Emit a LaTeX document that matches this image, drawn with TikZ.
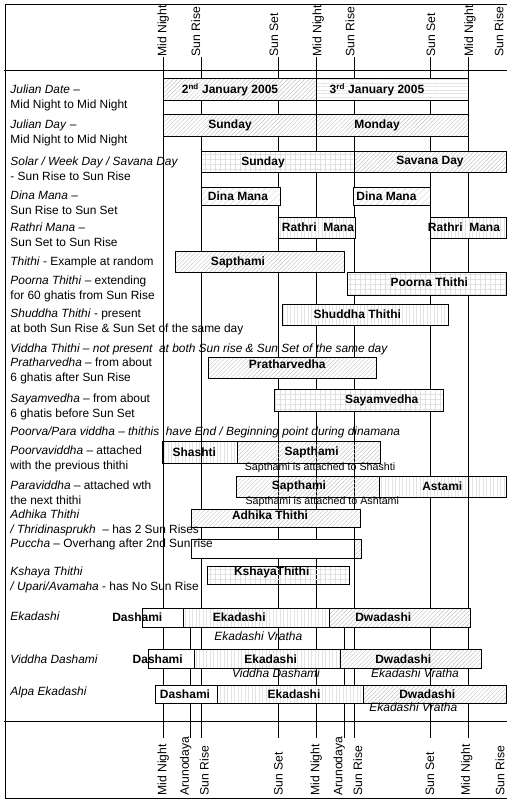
\documentclass[tikz,border=0pt]{standalone}
\usepackage{fontspec}
\setmainfont{Liberation Sans}
\usetikzlibrary{patterns.meta}

\begin{document}
\begin{tikzpicture}[x=1pt,y=-1pt,line width=0.9pt,
    seg/.style={draw, line width=1pt},
    whitebg/.style={preaction={fill=white}},
    diag/.style={seg, pattern={Lines[angle=45,distance=3pt,line width=0.45pt]}, pattern color=black!24},
    faint/.style={seg, pattern={Lines[angle=45,distance=4.5pt,line width=0.4pt]}, pattern color=black!18},
    checks/.style={seg, pattern={Hatch[angle=0,distance=5pt,line width=0.45pt]}, pattern color=black!12},
    vstripes/.style={seg, pattern={Lines[angle=90,distance=3.5pt,line width=0.45pt]}, pattern color=black!11},
    hstripes/.style={seg, pattern={Lines[angle=0,distance=3.5pt,line width=0.5pt]}, pattern color=black!11},
    blank/.style={seg, fill=white},
    timelabel/.style={rotate=90, anchor=west, inner sep=0pt, font=\fontsize{12.2}{14}\selectfont},
    lbl/.style={inner sep=0pt, font=\bfseries\fontsize{12}{14}\selectfont},
    note/.style={inner sep=0pt, font=\fontsize{10.7}{12}\selectfont},
    vratha/.style={inner sep=0pt, font=\itshape\fontsize{12}{14}\selectfont},
    desc/.style={anchor=west, align=left, inner sep=0pt, font=\fontsize{11.9}{15}\selectfont}]
    \useasboundingbox (0,0) rectangle (512,804);

    \coordinate (nw) at (5.3,4.3);
    \coordinate (ne) at (507,4.3);
    \coordinate (sw) at (5.3,798);
    \coordinate (se) at (507,798);
    \coordinate (headl) at (4,70.7);
    \coordinate (headr) at (507,70.7);
    \coordinate (footl) at (4,721.7);
    \coordinate (footr) at (507,721.7);
    \draw (ne) -- (nw) -- (sw) -- (se);
    \draw (headl) -- (headr);
    \draw (footl) -- (footr);

    \coordinate (mn1) at (163.3,57);
    \coordinate (sr1) at (201.3,57);
    \coordinate (ss1) at (278.3,57);
    \coordinate (mn2) at (316.3,57);
    \coordinate (sr2) at (354.3,57);
    \coordinate (ss2) at (430.3,57);
    \coordinate (mn3) at (468.3,57);
    \coordinate (ar1) at (190.3,608.3);
    \coordinate (ar2) at (344.3,608.3);
    \coordinate (base) at (0,737.7);
    \draw (mn1) -- (mn1 |- base);
    \draw (sr1) -- (sr1 |- base);
    \draw (ss1) -- (ss1 |- base);
    \draw (mn2) -- (mn2 |- base);
    \draw (sr2) -- (sr2 |- base);
    \draw (ss2) -- (ss2 |- base);
    \draw (mn3) -- (mn3 |- base);
    \draw (ar1) -- (ar1 |- base);
    \draw (ar2) -- (ar2 |- base);

    \node[timelabel] (t-mn1) at (163.3,57) {Mid Night};
    \node[timelabel] (t-sr1) at (195.7,57) {Sun Rise};
    \node[timelabel] (t-ss1) at (274,57) {Sun Set};
    \node[timelabel] (t-mn2) at (318.3,57) {Mid Night};
    \node[timelabel] (t-sr2) at (350,57) {Sun Rise};
    \node[timelabel] (t-ss2) at (431,57) {Sun Set};
    \node[timelabel] (t-mn3) at (470,57) {Mid Night};
    \node[timelabel] (t-sr3) at (499,57) {Sun Rise};

    \node[timelabel] (b-mn1) at (163.3,796) {Mid Night};
    \node[timelabel] (b-ar1) at (185.7,796) {Arunodaya};
    \node[timelabel] (b-sr1) at (204.3,796) {Sun Rise};
    \node[timelabel] (b-ss1) at (278.3,796) {Sun Set};
    \node[timelabel] (b-mn2) at (316.3,796) {Mid Night};
    \node[timelabel] (b-ar2) at (339.3,796) {Arunodaya};
    \node[timelabel] (b-sr2) at (357.7,796) {Sun Rise};
    \node[timelabel] (b-ss2) at (430,796) {Sun Set};
    \node[timelabel] (b-mn3) at (466.7,796) {Mid Night};
    \node[timelabel] (b-sr3) at (500,796) {Sun Rise};

    \draw[diag, whitebg] (163.3,78.7) rectangle (316.3,100);
    \draw[hstripes, whitebg] (316.3,78.7) rectangle (468.3,100);
    \node[lbl] (jdate1) at (230,90) {2\textsuperscript{nd} January 2005};
    \node[lbl] (jdate2) at (377,90) {3\textsuperscript{rd} January 2005};

    \draw[diag, whitebg] (163.3,114.3) rectangle (316.3,136);
    \draw[diag, whitebg] (316.3,114.3) rectangle (468.3,136);
    \node[lbl] (jday1) at (230,125.2) {Sunday};
    \node[lbl] (jday2) at (377,125.2) {Monday};

    \draw[checks, whitebg] (201.3,151.7) rectangle (354.3,172.3);
    \draw[diag, whitebg] (354.3,151.7) rectangle (506,172.3);
    \node[lbl] (solar1) at (263,161.9) {Sunday};
    \node[lbl] (solar2) at (430,161.9) {Savana Day};

    \draw[faint, whitebg] (201.3,187.3) rectangle (280.7,205.7);
    \draw[faint, whitebg] (353.3,187.3) rectangle (430,205.7);
    \node[lbl, anchor=west] (dina1) at (207.5,196.3) {Dina Mana};
    \node[lbl, anchor=west] (dina2) at (356,196.3) {Dina Mana};

    \draw[vstripes, whitebg] (278.3,217.3) rectangle (355.7,238.3);
    \draw[vstripes, whitebg] (430.3,217.3) rectangle (506,238.3);
    \node[lbl] (rathri1) at (318,227.6) {Rathri\ \ Mana};
    \node[lbl] (rathri2) at (464,227.6) {Rathri\ \ Mana};

    \draw[diag, whitebg] (175.7,251.7) rectangle (344.3,272.3);
    \node[lbl] (thithi) at (238,262) {Sapthami};

    \draw[checks, whitebg] (347.7,272.7) rectangle (506,295);
    \node[lbl] (poorna) at (429.3,282) {Poorna Thithi};

    \draw[vstripes, whitebg] (282.3,304.3) rectangle (448.3,325.3);
    \node[lbl] (shuddha) at (357.3,314.5) {Shuddha Thithi};

    \draw[diag, whitebg] (208.3,357.3) rectangle (376.7,378.3);
    \node[lbl] (prathar) at (287.3,364.3) {Pratharvedha};

    \draw[checks, whitebg] (274.3,389) rectangle (443.3,411.7);
    \node[lbl] (sayam) at (381.7,400) {Sayamvedha};

    \draw[vstripes] (162.3,441.7) rectangle (237.3,463.3);
    \draw[diag] (237.3,441.7) rectangle (380,463.3);
    \node[lbl] (poorva1) at (194.3,452.3) {Shashti};
    \node[lbl] (poorva2) at (311.7,452.3) {Sapthami};
    \node[note] (poorvanote) at (320,467.5) {Sapthami is attached to Shashti};

    \draw[diag] (236.3,476.3) rectangle (379.3,497.3);
    \draw[vstripes] (379.3,476.3) rectangle (506,497.3);
    \node[lbl] (para1) at (299,486.5) {Sapthami};
    \node[lbl] (para2) at (442.3,486.5) {Astami};
    \node[note] (paranote) at (322.3,501.8) {Sapthami is attached to Ashtami};

    \draw[diag, whitebg] (191.3,509.3) rectangle (360.7,527.3);
    \node[lbl] (adhika) at (270,515.3) {Adhika Thithi};

    \draw[blank] (191.3,539.3) rectangle (354.3,558.3);
    \draw[diag, whitebg] (354.3,539.3) rectangle (361.7,558.3);

    \draw[checks] (207.3,566.7) rectangle (349.3,584.3);
    \node[lbl] (kshaya) at (271.7,572.6) {KshayaThithi};

    \draw[blank] (142.3,608.3) rectangle (183.3,627.3);
    \draw[vstripes, whitebg] (183.3,608.3) rectangle (329.3,627.3);
    \draw[diag, whitebg] (329.3,608.3) rectangle (470,627.3);
    \node[lbl] (eka1) at (137.3,617) {Dashami};
    \node[lbl] (eka2) at (239.3,617) {Ekadashi};
    \node[lbl] (eka3) at (383.3,617) {Dwadashi};
    \node[vratha] (ekavr) at (258.3,636) {Ekadashi Vratha};

    \draw[blank] (148.3,649.7) rectangle (194.3,668.3);
    \draw[vstripes, whitebg] (194.3,649.7) rectangle (340.7,668.3);
    \draw[diag, whitebg] (340.7,649.7) rectangle (481.3,668.3);
    \node[lbl] (vd1) at (157.7,659) {Dashami};
    \node[lbl] (vd2) at (270.7,659) {Ekadashi};
    \node[lbl] (vd3) at (403.3,659) {Dwadashi};
    \node[vratha] (vdvr1) at (276,673.5) {Viddha Dashami};
    \node[vratha] (vdvr2) at (415,673.5) {Ekadashi Vratha};

    \draw[blank] (155.7,685.3) rectangle (217.3,703.3);
    \draw[vstripes, whitebg] (217.3,685.3) rectangle (363.3,703.3);
    \draw[diag, whitebg] (363.3,685.3) rectangle (506,703.3);
    \node[lbl] (alpa1) at (185,694.3) {Dashami};
    \node[lbl] (alpa2) at (294,694.3) {Ekadashi};
    \node[lbl] (alpa3) at (427.3,694.3) {Dwadashi};
    \node[vratha] (alpavr) at (413.3,707.5) {Ekadashi Vratha};

    \node[desc] (d-jdate) at (10,97.5) {\textit{Julian Date} –\\Mid Night to Mid Night};
    \node[desc] (d-jday) at (10,132.5) {\textit{Julian Day} –\\Mid Night to Mid Night};
    \node[desc] (d-solar) at (10,169.2) {\textit{Solar / Week Day / Savana Day}\\- Sun Rise to Sun Rise};
    \node[desc] (d-dina) at (10,203) {\textit{Dina Mana} –\\Sun Rise to Sun Set};
    \node[desc] (d-rathri) at (10,234.8) {\textit{Rathri Mana} –\\Sun Set to Sun Rise};
    \node[desc] (d-thithi) at (10,262.7) {\textit{Thithi} - Example at random};
    \node[desc] (d-poorna) at (10,289.2) {\textit{Poorna Thithi} – extending\\for 60 ghatis from Sun Rise};
    \node[desc] (d-shuddha) at (10,321.7) {\textit{Shuddha Thithi} - present\\at both Sun Rise \& Sun Set of the same day};
    \node[desc] (d-viddha) at (10,349) {\textit{Viddha Thithi – not present\ \ at both Sun rise \& Sun Set of the same day}};
    \node[desc] (d-prathar) at (10,371.2) {\textit{Pratharvedha} – from about\\6 ghatis after Sun Rise};
    \node[desc] (d-sayam) at (10,407) {\textit{Sayamvedha} – from about\\6 ghatis before Sun Set};
    \node[desc] (d-poorvapara) at (10,432.3) {\textit{Poorva/Para viddha – thithis\ \ have End / Beginning point during dinamana}};
    \node[desc] (d-poorva) at (10,459.2) {\textit{Poorvaviddha} – attached\\with the previous thithi};
    \node[desc] (d-para) at (10,493.2) {\textit{Paraviddha} – attached wth\\the next thithi};
    \node[desc] (d-adhika) at (10,522.5) {\textit{Adhika Thithi}\\\textit{/ Thridinasprukh}\ \ – has 2 Sun Rises};
    \node[desc] (d-puccha) at (10,544.3) {\textit{Puccha} – Overhang after 2nd Sun rise};
    \node[desc] (d-kshaya) at (10,580) {\textit{Kshaya Thithi}\\\textit{/ Upari/Avamaha} - has No Sun Rise};
    \node[desc] (d-eka) at (10,616.7) {\textit{Ekadashi}};
    \node[desc] (d-vd) at (10,659) {\textit{Viddha Dashami}};
    \node[desc] (d-alpa) at (10,692.3) {\textit{Alpa Ekadashi}};
\end{tikzpicture}
\end{document}
